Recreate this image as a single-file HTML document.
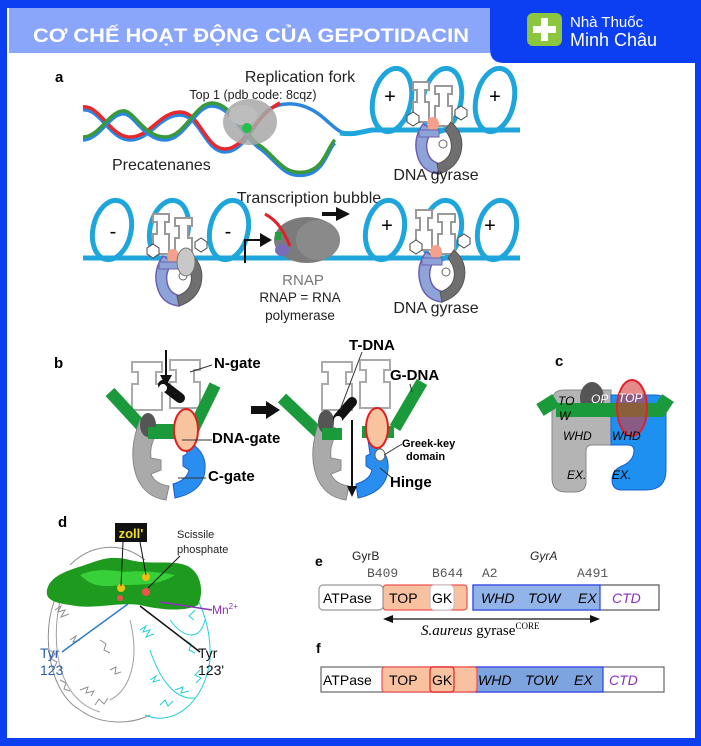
<!DOCTYPE html>
<html><head><meta charset="utf-8"><style>
html,body{margin:0;padding:0;}
body{width:701px;height:746px;overflow:hidden;background:#0c3ff2;}
svg{display:block;}
text{font-family:"Liberation Sans","DejaVu Sans",sans-serif;}
</style></head><body>
<svg width="701" height="746" viewBox="0 0 701 746" xmlns="http://www.w3.org/2000/svg">
<defs>
<g id="gyr">
  <path d="M-24,-48 h16 v8 h-4 v12 h4 v20 h-16 v-20 h4 v-12 h-4z" fill="#fff" stroke="#999" stroke-width="2"/>
  <path d="M-2,-44 h17 v8 h-4 v12 h4 v20 h-17 v-20 h4 v-12 h-4z" fill="#fff" stroke="#999" stroke-width="2"/>
  <path d="M-14,-6 q-10,14 -6,30 q4,18 22,20 l2,-10 q-12,-2 -14,-14 q-2,-10 6,-20z" fill="#8ea4d8" stroke="#6c5fb0" stroke-width="1.5"/>
  <path d="M14,-8 q14,12 10,30 q-4,16 -22,22 l-2,-10 q12,-4 14,-14 q2,-10 -6,-20z" fill="#6f6f6f" stroke="#555" stroke-width="1"/>
  <ellipse cx="-4" cy="-6" rx="6" ry="7" fill="#f5a08a"/>
  <rect x="-18" y="0" width="20" height="7" fill="#8ea4d8" stroke="#6c5fb0" stroke-width="1"/>
  <polygon points="-30,-14 -24,-18 -18,-14 -18,-8 -24,-4 -30,-8" fill="#fff" stroke="#444" stroke-width="1"/>
  <polygon points="18,-20 24,-24 30,-20 30,-14 24,-10 18,-14" fill="#fff" stroke="#444" stroke-width="1"/>
  <circle cx="6" cy="14" r="4" fill="#fff" stroke="#666" stroke-width="1"/>
</g>
</defs>
<rect x="7" y="8" width="688" height="730" fill="#fff"/>
<rect x="9" y="8" width="481" height="45" fill="#8aa6fb"/>
<text x="33" y="42" font-size="19" font-weight="bold" fill="#fff" textLength="436" lengthAdjust="spacingAndGlyphs">CƠ CHẾ HOẠT ĐỘNG CỦA GEPOTIDACIN</text>
<path d="M490,0 H701 V63 H504 Q490,63 490,49 Z" fill="#0c3ff2"/>
<rect x="527" y="13" width="35" height="33" rx="6" fill="#8cc63f"/>
<rect x="541" y="18" width="7" height="23" fill="#fff"/>
<rect x="533" y="26" width="23" height="7" fill="#fff"/>
<text x="570" y="27" font-size="15" fill="#fff">Nhà Thuốc</text>
<text x="570" y="46" font-size="18" fill="#fff">Minh Châu</text>

<!-- panel a -->
<text x="55" y="82" font-size="15" font-weight="bold">a</text>
<text x="300" y="82" font-size="16" text-anchor="middle" fill="#222">Replication fork</text>
<text x="253" y="99" font-size="12.5" text-anchor="middle" fill="#222">Top 1 (pdb code: 8cqz)</text>
<g fill="none" stroke-width="3.5">
<path d="M83,110 C100,108 110,140 130,140 C150,140 160,115 180,115 C200,115 205,152 225,152 C245,152 255,120 268,110 C280,102 300,100 320,115 C335,127 340,136 355,134" stroke="#2a86e0"/>
<path d="M83,107 C100,105 110,137 130,137 C150,137 160,112 180,112 C200,112 205,149 225,149 C245,149 255,115 280,103" stroke="#e8282a"/>
<path d="M83,140 C100,140 110,112 125,114 C135,116 145,140 165,140 C185,140 195,106 212,106 C232,106 245,140 262,150 C280,165 285,178 305,175 C325,172 328,148 335,143" stroke="#2a86e0"/>
<path d="M83,137 C100,137 110,109 125,111 C135,113 145,137 165,137 C185,137 195,103 212,103 C232,103 245,137 262,147 C280,162 285,175 305,172 C325,169 328,145 335,140" stroke="#3a9a3a"/>
</g>
<ellipse cx="250" cy="122" rx="27" ry="23" fill="#a8a8a8" opacity="0.85"/>
<ellipse cx="243" cy="115" rx="14" ry="10" fill="#bdbdbd"/>
<circle cx="247" cy="128" r="5" fill="#22c04a"/>
<text x="112" y="170" font-size="16" fill="#222">Precatenanes</text>
<g fill="none" stroke="#1ea6dc" stroke-width="5">
<path d="M340,133 C355,135 360,132 372,130 L520,130"/>
<ellipse cx="392" cy="100" rx="19" ry="32" transform="rotate(12 392 100)"/>
<ellipse cx="442" cy="100" rx="19" ry="32" transform="rotate(12 442 100)"/>
<ellipse cx="495" cy="100" rx="19" ry="32" transform="rotate(12 495 100)"/>
</g>
<text x="390" y="103" font-size="20" text-anchor="middle">+</text>
<text x="495" y="103" font-size="20" text-anchor="middle">+</text>
<use href="#gyr" x="437" y="130"/>
<text x="436" y="180" font-size="16" text-anchor="middle" fill="#222">DNA gyrase</text>

<text x="309" y="203" font-size="16" text-anchor="middle" fill="#222">Transcription bubble</text>
<g fill="none" stroke="#1ea6dc" stroke-width="5">
<path d="M83,258 L520,258"/>
<ellipse cx="112" cy="230" rx="19" ry="30" transform="rotate(12 112 230)"/>
<ellipse cx="169" cy="230" rx="19" ry="30" transform="rotate(12 169 230)"/>
<ellipse cx="229" cy="230" rx="19" ry="30" transform="rotate(12 229 230)"/>
<ellipse cx="385" cy="230" rx="19" ry="30" transform="rotate(12 385 230)"/>
<ellipse cx="442" cy="230" rx="19" ry="30" transform="rotate(12 442 230)"/>
<ellipse cx="497" cy="230" rx="19" ry="30" transform="rotate(12 497 230)"/>
</g>
<text x="113" y="238" font-size="20" text-anchor="middle">-</text>
<text x="228" y="238" font-size="20" text-anchor="middle">-</text>
<text x="387" y="232" font-size="20" text-anchor="middle">+</text>
<text x="490" y="232" font-size="20" text-anchor="middle">+</text>
<use href="#gyr" x="177" y="262"/>
<ellipse cx="186" cy="262" rx="9" ry="14" fill="#c8c8c8" stroke="#777"/>
<use href="#gyr" x="440" y="258"/>
<path d="M245,263 V240 H262" fill="none" stroke="#111" stroke-width="2"/>
<polygon points="260,233 272,240 260,247" fill="#111"/>
<ellipse cx="307" cy="240" rx="33" ry="23" fill="#7b7b7b"/>
<ellipse cx="318" cy="240" rx="22" ry="20" fill="#8a8a8a"/>
<ellipse cx="282" cy="250" rx="7" ry="6" fill="#7a6cb8"/>
<rect x="275" y="232" width="6" height="8" fill="#22a040"/>
<path d="M265,214 C280,222 285,235 290,246" fill="none" stroke="#e0202a" stroke-width="3"/>
<path d="M322,214 H338" stroke="#111" stroke-width="4"/>
<polygon points="336,207 350,214 336,221" fill="#111"/>
<text x="303" y="285" font-size="15" text-anchor="middle" fill="#777">RNAP</text>
<text x="300" y="302" font-size="13.5" text-anchor="middle" fill="#222">RNAP = RNA</text>
<text x="300" y="320" font-size="13.5" text-anchor="middle" fill="#222">polymerase</text>
<text x="436" y="313" font-size="16" text-anchor="middle" fill="#222">DNA gyrase</text>

<!-- panel b -->
<text x="54" y="368" font-size="15" font-weight="bold">b</text>
<g id="bl">
<path d="M132,362 h30 v10 h-6 v12 h6 v26 h-30 v-26 h6 v-12 h-6z" fill="#fff" stroke="#aaa" stroke-width="2"/>
<path d="M170,360 h30 v10 h-6 v12 h6 v26 h-30 v-26 h6 v-12 h-6z" fill="#fff" stroke="#aaa" stroke-width="2"/>
</g>
<path d="M110,392 L145,430" stroke="#1a9a3a" stroke-width="12" fill="none"/>
<path d="M215,385 L193,430" stroke="#1a9a3a" stroke-width="12" fill="none"/>
<path d="M150,430 H193" stroke="#1a9a3a" stroke-width="12"/>
<path d="M140,420 q-12,30 -4,55 q8,22 30,25 l3,-14 q-14,-2 -18,-12 l10,-4 v-10 l-10,-2 q-2,-14 8,-28 z" fill="#aaa" stroke="#888"/>
<ellipse cx="148" cy="425" rx="8" ry="12" fill="#555"/>
<path d="M185,440 q22,10 20,30 q-2,22 -30,28 l-2,-14 q14,-4 16,-14 l-6,-4 v-10 l4,-2 z" fill="#2a8ef0" stroke="#1a5fd0"/>
<path d="M148,433 H196" stroke="#1a9a3a" stroke-width="12"/>
<ellipse cx="186" cy="430" rx="12" ry="21" fill="#f8c4a0" stroke="#e02020" stroke-width="2"/>
<path d="M163,385 L180,398" stroke="#111" stroke-width="10" stroke-linecap="round"/>
<circle cx="163" cy="388" r="4" fill="#fff"/>
<path d="M166,350 V378" stroke="#111" stroke-width="2"/>
<polygon points="160,375 166,386 172,375" fill="#111"/>
<path d="M190,372 L212,365" stroke="#333"/>
<text x="214" y="368" font-size="15" font-weight="bold">N-gate</text>
<path d="M182,440 H212" stroke="#333"/>
<text x="212" y="443" font-size="15" font-weight="bold">DNA-gate</text>
<path d="M178,478 H206" stroke="#333"/>
<text x="208" y="481" font-size="15" font-weight="bold">C-gate</text>
<path d="M251,410 H268" stroke="#111" stroke-width="8"/>
<polygon points="266,401 280,410 266,419" fill="#111"/>
<use href="#bl" x="190" y="0"/>
<path d="M282,398 L322,436" stroke="#1a9a3a" stroke-width="12" fill="none"/>
<path d="M422,382 L395,428" stroke="#1a9a3a" stroke-width="12" fill="none"/>
<path d="M320,420 q-12,30 -4,55 q8,22 30,25 l3,-14 q-14,-2 -18,-12 l10,-4 v-10 l-10,-2 q-2,-14 8,-28 z" fill="#aaa" stroke="#888"/>
<ellipse cx="326" cy="422" rx="8" ry="12" fill="#555"/>
<path d="M368,440 q22,10 20,30 q-2,22 -30,28 l-2,-14 q14,-4 16,-14 l-6,-4 v-10 l4,-2 z" fill="#2a8ef0" stroke="#1a5fd0"/>
<path d="M322,434 H342 M362,432 H394" stroke="#1a9a3a" stroke-width="12"/>
<ellipse cx="377" cy="428" rx="11" ry="20" fill="#f8c4a0" stroke="#e02020" stroke-width="2"/>
<path d="M338,418 L352,402" stroke="#111" stroke-width="10" stroke-linecap="round"/>
<circle cx="338" cy="420" r="4" fill="#fff"/>
<path d="M352,420 V488" stroke="#111" stroke-width="2"/>
<polygon points="347,486 352,497 357,486" fill="#111"/>
<path d="M340,410 L362,352" stroke="#333"/>
<text x="349" y="350" font-size="15" font-weight="bold">T-DNA</text>
<text x="390" y="380" font-size="15" font-weight="bold">G-DNA</text>
<path d="M410,384 L412,392" stroke="#333"/>
<ellipse cx="380" cy="455" rx="5" ry="6" fill="#fff" stroke="#666"/>
<path d="M384,455 L402,444" stroke="#333"/>
<text x="402" y="447" font-size="11" font-weight="bold">Greek-key</text>
<text x="406" y="460" font-size="11" font-weight="bold">domain</text>
<path d="M380,468 L392,478" stroke="#333"/>
<text x="390" y="487" font-size="15" font-weight="bold">Hinge</text>

<!-- panel c -->
<text x="555" y="366" font-size="15" font-weight="bold">c</text>
<path d="M564,390 H611 V445 H592 q-6,0 -6,6 V482 q0,10 -12,10 h-8 q-14,0 -14,-14 V402 q0,-12 12,-12 Z" fill="#b4b4b4" stroke="#888"/>
<path d="M611,395 H656 q10,0 10,12 V470 q0,20 -20,20 h-24 q-10,0 -10,-10 q0,-10 10,-14 q12,-5 12,-16 V451 q0,-6 -6,-6 H611 Z" fill="#1e90f0" stroke="#1a5fd0"/>
<ellipse cx="592" cy="398" rx="12" ry="16" fill="#555"/>
<path d="M540,410 L556,400 M556,410 H660 L668,398" stroke="#1a9a3a" stroke-width="14" fill="none"/>
<ellipse cx="632" cy="408" rx="15" ry="28" fill="#d43a3a" fill-opacity="0.6" stroke="#e0202a" stroke-width="2"/>
<g font-size="12" font-style="italic">
<text x="558" y="405">TO</text><text x="559" y="420">W</text>
<text x="591" y="403" fill="#fff">OP</text>
<text x="618" y="402" fill="#fff">TOP</text>
<text x="563" y="440">WHD</text><text x="612" y="440">WHD</text>
<text x="567" y="479">EX.</text><text x="612" y="479">EX.</text>
</g>

<!-- panel d -->
<text x="58" y="527" font-size="15" font-weight="bold">d</text>
<g fill="none" stroke-width="1">
<path d="M60,590 C40,620 45,690 80,710 C100,725 130,725 150,715 M70,565 C90,545 120,540 145,560 M55,610 l6,-4 l-3,6 l7,-2 l-4,7 l8,-3 M70,640 l6,-4 l-3,6 l7,-2 M80,690 l8,-3 l-2,6 l8,-2 l-3,5 M100,640 l6,4 l-2,6 l6,3 M120,600 l5,-5 l2,7 l6,-4 M90,580 l6,6 l4,-5 M50,650 l5,4 l-4,5 l6,3 l-3,6 M60,680 l6,3 l-2,6 l6,2 M95,705 l4,-6 l5,5 l4,-6 M110,670 l6,-3 l-1,7 l6,-2" stroke="#8f8f8f"/>
<path d="M60,600 C50,650 60,700 100,712 M110,700 C130,690 140,660 130,620" stroke="#a0a0a0"/>
<path d="M145,715 C175,728 205,700 210,660 C212,620 195,585 170,565 M140,630 l6,-4 l-3,6 l7,-2 l-4,7 l8,-3 M150,680 l6,-4 l-3,6 l7,-2 M175,690 l8,-3 l-2,6 l8,-2 M185,640 l6,4 l-2,6 l6,3 M160,600 l5,-5 l2,7 l6,-4 M195,610 l-6,6 l5,4 M200,670 l-5,5 l6,3 l-5,5 M160,705 l5,-5 l3,6 l5,-5" stroke="#22cfd8"/>
<path d="M150,650 C160,680 175,700 195,698 M170,620 C185,640 200,640 205,620" stroke="#22cfd8"/>
<path d="M160,570 C175,560 190,575 180,590 C170,605 200,605 195,585" stroke="#e040c0"/>
</g>
<path d="M47,590 C50,575 70,570 85,565 C100,560 110,555 130,560 C150,565 170,560 185,565 C200,570 205,590 198,605 C185,612 160,610 140,605 C115,602 95,610 70,605 C55,603 45,600 47,590 Z" fill="#1e9a1e"/>
<path d="M80,575 C95,568 110,570 125,572 C140,570 160,572 175,575 C160,585 140,585 120,585 C100,588 90,585 80,575 Z" fill="#38d038"/>
<circle cx="121" cy="588" r="4" fill="#f0c010"/><circle cx="146" cy="577" r="4" fill="#f0c010"/>
<circle cx="146" cy="592" r="4" fill="#f05050"/><circle cx="120" cy="598" r="3" fill="#f05050"/>
<rect x="115" y="523" width="32" height="19" fill="#111"/>
<text x="131" y="538" font-size="13" font-weight="bold" fill="#f0e020" text-anchor="middle">zoll'</text>
<path d="M123,542 L121,586 M140,542 L146,575" stroke="#111"/>
<text x="177" y="538" font-size="11" fill="#222">Scissile</text>
<text x="177" y="553" font-size="11" fill="#222">phosphate</text>
<path d="M180,556 L148,588" stroke="#111"/>
<path d="M212,610 L160,602" stroke="#9030c0" stroke-width="1.5"/>
<text x="212" y="614" font-size="12" fill="#9030c0">Mn<tspan font-size="8" dy="-5">2+</tspan></text>
<path d="M62,652 L128,604" stroke="#2a7ad0" stroke-width="1.5"/>
<text x="40" y="658" font-size="14" fill="#2a5ea8">Tyr</text>
<text x="40" y="675" font-size="14" fill="#2a5ea8">123</text>
<path d="M200,652 L140,606" stroke="#111" stroke-width="1.5"/>
<text x="198" y="658" font-size="14" fill="#111">Tyr</text>
<text x="198" y="675" font-size="14" fill="#111">123'</text>

<!-- panel e -->
<text x="315" y="566" font-size="14" font-weight="bold">e</text>
<text x="352" y="560" font-size="12" fill="#222">GyrB</text>
<text x="530" y="560" font-size="12" font-style="italic" fill="#222">GyrA</text>
<g font-size="13" fill="#555">
<text x="367" y="577" style="font-family:'Liberation Mono',monospace">B409</text>
<text x="432" y="577" style="font-family:'Liberation Mono',monospace">B644</text>
<text x="482" y="577" style="font-family:'Liberation Mono',monospace">A2</text>
<text x="577" y="577" style="font-family:'Liberation Mono',monospace">A491</text>
</g>
<rect x="473" y="585" width="186" height="25" fill="#fff" stroke="#555" stroke-width="1.2"/>
<rect x="473" y="585" width="127" height="25" fill="#93b4e8" stroke="#2a3ff0" stroke-width="1.2"/>
<rect x="383" y="585" width="84" height="25" rx="3" fill="#f8c2a0" stroke="#f05050" stroke-width="1.2"/>
<rect x="319" y="585" width="64" height="25" rx="4" fill="#fff" stroke="#999" stroke-width="1.2"/>
<rect x="430" y="585" width="24" height="25" rx="4" fill="#fff" stroke="#bbb" stroke-width="1"/>
<g font-size="14">
<text x="323" y="603">ATPase</text><text x="389" y="603">TOP</text><text x="432" y="603">GK</text>
<text x="481" y="603" font-style="italic">WHD</text><text x="528" y="603" font-style="italic">TOW</text><text x="578" y="603" font-style="italic">EX</text>
<text x="612" y="603" font-style="italic" fill="#8a30c0">CTD</text>
</g>
<path d="M390,619 H594" stroke="#111" stroke-width="1.2"/>
<polygon points="383,619 393,615 393,623" fill="#111"/>
<polygon points="600,619 590,615 590,623" fill="#111"/>
<text x="421" y="635" font-size="15" style="font-family:'Liberation Serif',serif"><tspan font-style="italic">S.aureus</tspan> gyrase<tspan font-size="9" dy="-6">CORE</tspan></text>
<text x="316" y="653" font-size="14" font-weight="bold">f</text>
<rect x="321" y="667" width="343" height="25" fill="#fff" stroke="#666" stroke-width="1.2"/>
<rect x="469" y="667" width="134" height="25" fill="#7ea4e0" stroke="#2a3ff0" stroke-width="1.2"/>
<rect x="382" y="667" width="95" height="25" rx="3" fill="#f8c2a0" stroke="#f05050" stroke-width="1.2"/>
<rect x="430" y="667" width="24" height="25" rx="3" fill="#f8c2a0" stroke="#e02020" stroke-width="1.2"/>
<g font-size="14">
<text x="323" y="685">ATPase</text><text x="389" y="685">TOP</text><text x="432" y="685">GK</text>
<text x="478" y="685" font-style="italic">WHD</text><text x="525" y="685" font-style="italic">TOW</text><text x="574" y="685" font-style="italic">EX</text>
<text x="609" y="685" font-style="italic" fill="#8a30c0">CTD</text>
</g>
</svg>
</body></html>
